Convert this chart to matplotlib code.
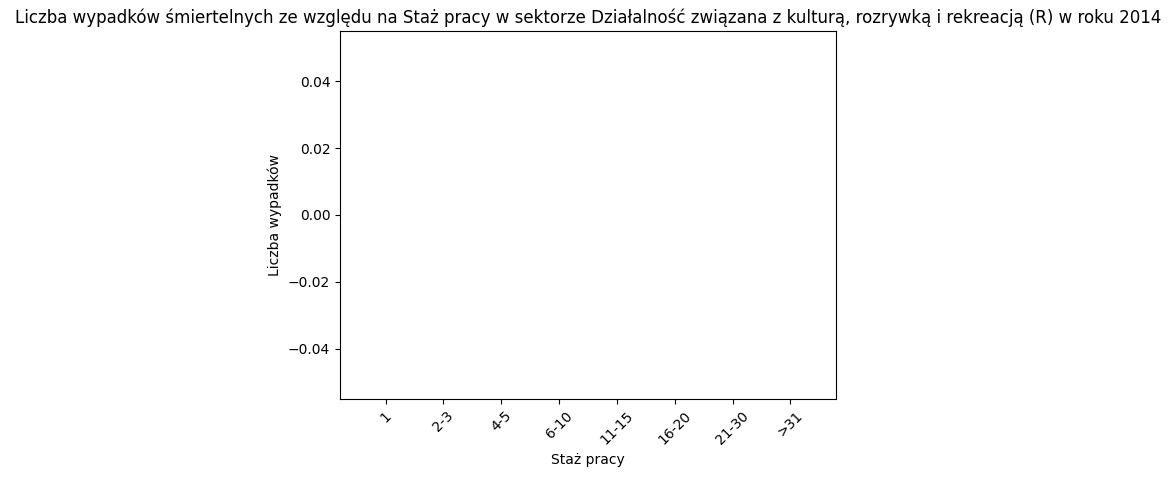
import matplotlib
matplotlib.use('Agg')
import matplotlib.pyplot as plt

staz = ['1', '2-3', '4-5', '6-10', '11-15', '16-20', '21-30', '>31']
wypadki = [0, 0, 0, 0, 0, 0, 0, 0]

fig = plt.figure(figsize=(11.75, 4.78), dpi=100)
ax = fig.add_axes([340 / 1175, 79 / 478, 496 / 1175, 368 / 478])

ax.bar(staz, wypadki)
ax.set_xlabel('Staż pracy')
ax.set_ylabel('Liczba wypadków')
ax.set_title('Liczba wypadków śmiertelnych ze względu na Staż pracy w sektorze '
             'Działalność związana z kulturą, rozrywką i rekreacją (R) w roku 2014')
plt.setp(ax.get_xticklabels(), rotation=45)

fig.savefig('out.png', dpi=100)
